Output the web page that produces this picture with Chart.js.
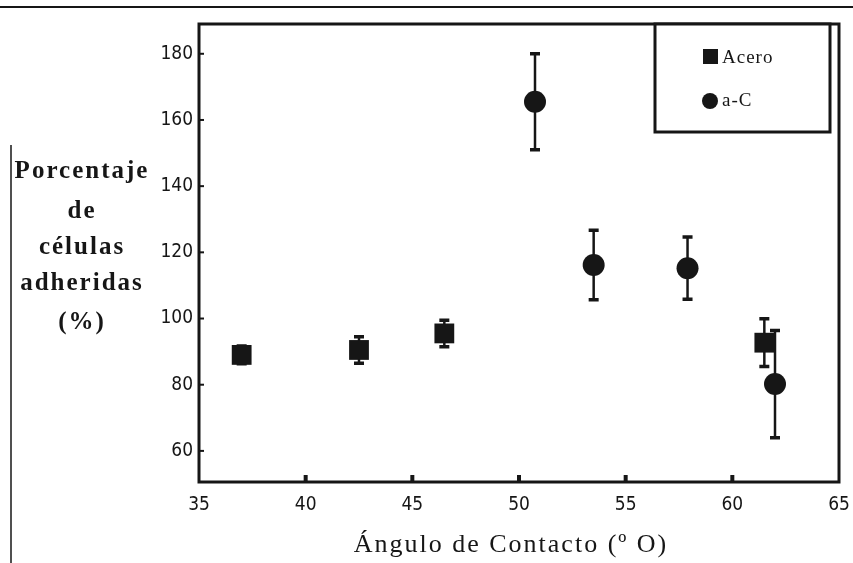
<!DOCTYPE html>
<html>
<head>
<meta charset="utf-8">
<script src="https://cdn.jsdelivr.net/npm/chart.js@4"></script>
<style>
  html, body { margin: 0; padding: 0; background: #fff; }
  #wrap { position: relative; width: 853px; height: 563px; }
</style>
</head>
<body>
<div id="wrap"><canvas id="chart" width="853" height="563"></canvas></div>
<script>
// valores
const aceroX = [37.0, 42.5, 46.5, 61.5];
const aceroY = [89.0, 90.5, 95.5, 92.7];
const aceroErr = [2.7, 4.0, 4.0, 7.2];

const acX = [50.75, 53.5, 57.9, 62.0];
const acY = [165.5, 116.2, 115.2, 80.2];
const acErr = [14.5, 10.5, 9.4, 16.2];

const xTicks = [35, 40, 45, 50, 55, 60, 65];
const yTicks = [60, 80, 100, 120, 140, 160, 180];
const yTitle = ["Porcentaje", "de", "células", "adheridas", "(%)"];
const xTitle = "Ángulo de Contacto (º O)";

const ink = "#161616";
const serif = "'Liberation Serif', 'DejaVu Serif', serif";
const tickFont = "'Liberation Sans Narrow', 'DejaVu Sans Condensed', 'Liberation Sans', sans-serif";

const toPoints = (xs, ys) => xs.map((x, i) => ({ x: x, y: ys[i] }));

// barras de error, marcas de eje, marco, leyenda y titulos
const extras = {
    id: "extras",
    beforeDatasetsDraw(chart) {
        const ctx = chart.ctx;
        const xs = chart.scales.x, ys = chart.scales.y;
        const a = chart.chartArea;
        ctx.save();
        ctx.strokeStyle = ink;

        // marco del grafico
        ctx.lineWidth = 3;
        ctx.strokeRect(a.left, a.top, a.right - a.left, a.bottom - a.top);

        // marcas hacia dentro
        ctx.lineWidth = 2;
        yTicks.forEach(v => {
            const py = ys.getPixelForValue(v);
            ctx.beginPath(); ctx.moveTo(a.left, py); ctx.lineTo(a.left + 5, py); ctx.stroke();
        });
        ctx.lineWidth = 4;
        xTicks.slice(1, -1).forEach(v => {
            const px = xs.getPixelForValue(v);
            ctx.beginPath(); ctx.moveTo(px, a.bottom); ctx.lineTo(px, a.bottom - 7); ctx.stroke();
        });

        // barras de error
        const series = [[aceroX, aceroY, aceroErr], [acX, acY, acErr]];
        series.forEach(([sx, sy, se]) => {
            sx.forEach((x, i) => {
                const px = xs.getPixelForValue(x);
                const top = ys.getPixelForValue(sy[i] + se[i]);
                const bot = ys.getPixelForValue(sy[i] - se[i]);
                ctx.lineWidth = 2.5;
                ctx.beginPath();
                ctx.moveTo(px, top); ctx.lineTo(px, bot);
                ctx.stroke();
                ctx.lineWidth = 3.5;
                ctx.beginPath();
                ctx.moveTo(px - 5, top); ctx.lineTo(px + 5, top);
                ctx.moveTo(px - 5, bot); ctx.lineTo(px + 5, bot);
                ctx.stroke();
            });
        });
        ctx.restore();
    },
    afterDraw(chart) {
        const ctx = chart.ctx;
        ctx.save();
        ctx.strokeStyle = ink;
        ctx.fillStyle = ink;

        // lineas sueltas del recorte original
        ctx.lineWidth = 2;
        ctx.beginPath(); ctx.moveTo(0, 7); ctx.lineTo(853, 7); ctx.stroke();
        ctx.lineWidth = 1.5;
        ctx.beginPath(); ctx.moveTo(11, 145); ctx.lineTo(11, 563); ctx.stroke();

        // leyenda
        const a = chart.chartArea;
        const lx = 655, ly = a.top, lw = 175, lh = 108;
        ctx.fillStyle = "#fff";
        ctx.fillRect(lx, ly, lw, lh);
        ctx.lineWidth = 3;
        ctx.strokeRect(lx, ly, lw, lh);
        ctx.fillStyle = ink;
        ctx.fillRect(703, 49, 15, 15);
        ctx.beginPath(); ctx.arc(710, 101, 8, 0, Math.PI * 2); ctx.fill();
        ctx.font = "19px " + serif;
        ctx.letterSpacing = "1px";
        ctx.textBaseline = "middle";
        ctx.textAlign = "left";
        ctx.fillText(chart.data.datasets[0].label, 722, 58);
        ctx.fillText(chart.data.datasets[1].label, 722, 101);

        // titulo del eje y, horizontal en varias lineas
        ctx.font = "bold 25px " + serif;
        ctx.letterSpacing = "2px";
        ctx.textAlign = "center";
        const rows = [172, 212, 248, 284, 323];
        yTitle.forEach((t, i) => ctx.fillText(t, 82, rows[i]));

        // titulo del eje x
        ctx.font = "26px " + serif;
        ctx.letterSpacing = "2px";
        ctx.fillText(xTitle, (a.left + a.right) / 2 - 8, 545);
        ctx.restore();
    }
};

new Chart(document.getElementById("chart"), {
    type: "scatter",
    data: {
        datasets: [
            {
                label: "Acero",
                data: toPoints(aceroX, aceroY),
                pointStyle: "rect",
                pointRadius: 14,
                pointHoverRadius: 14,
                backgroundColor: ink,
                borderColor: ink,
                borderWidth: 0
            },
            {
                label: "a-C",
                data: toPoints(acX, acY),
                pointStyle: "circle",
                pointRadius: 11,
                pointHoverRadius: 11,
                backgroundColor: ink,
                borderColor: ink,
                borderWidth: 0
            }
        ]
    },
    options: {
        responsive: false,
        animation: false,
        events: [],
        layout: { padding: { left: 0, top: 24, right: 6, bottom: 0 } },
        plugins: {
            legend: { display: false },
            tooltip: { enabled: false }
        },
        scales: {
            x: {
                type: "linear",
                min: 35,
                max: 65,
                afterBuildTicks: s => { s.ticks = xTicks.map(v => ({ value: v })); },
                afterFit: s => { s.height = 81; s.paddingLeft = 0; s.paddingRight = 0; },
                grid: { display: false, drawTicks: false },
                border: { display: false },
                ticks: {
                    color: ink,
                    padding: 12,
                    maxRotation: 0,
                    autoSkip: false,
                    font: { family: tickFont, size: 19 }
                }
            },
            y: {
                type: "linear",
                min: 50.6,
                max: 189,
                afterBuildTicks: s => { s.ticks = yTicks.map(v => ({ value: v })); },
                afterFit: s => { s.width = 199; s.paddingTop = 0; s.paddingBottom = 0; },
                grid: { display: false, drawTicks: false },
                border: { display: false },
                ticks: {
                    color: ink,
                    padding: 6,
                    font: { family: tickFont, size: 19 }
                }
            }
        }
    },
    plugins: [extras]
});
</script>
</body>
</html>
